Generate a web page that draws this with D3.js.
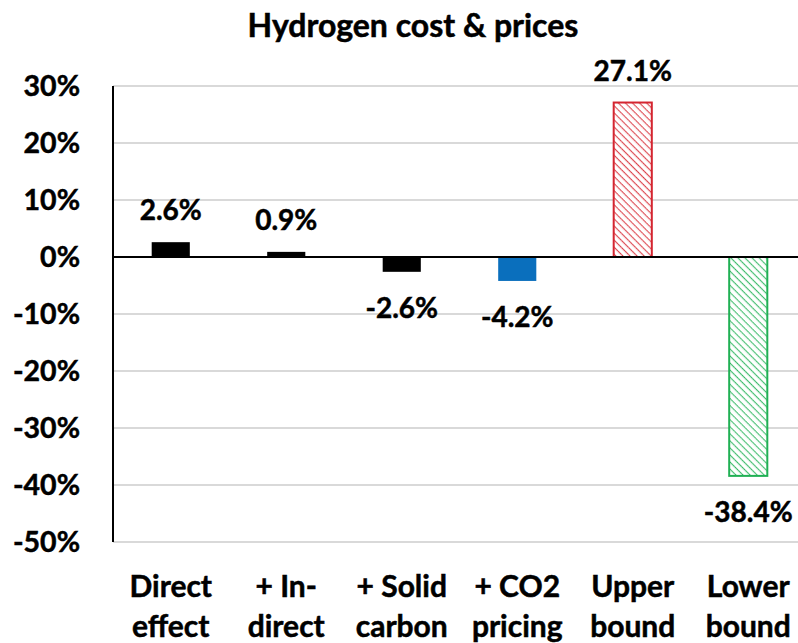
<!DOCTYPE html>
<html>
<head>
<meta charset="utf-8">
<script src="https://cdn.jsdelivr.net/npm/d3@7"></script>
<style>
  body { margin: 0; background: #fff; }
  svg text { font-family: Lato, "Open Sans", sans-serif; font-weight: bold; fill: #000; stroke: #000; stroke-width: 0.5px; }
</style>
</head>
<body>
<div id="chart"></div>
<script>
// chart data
const categories = [["Direct", "effect"], ["+ In-", "direct"], ["+ Solid", "carbon"], ["+ CO2", "pricing"], ["Upper", "bound"], ["Lower", "bound"]];
const values = [2.6, 0.9, -2.6, -4.2, 27.1, -38.4];
const barKinds = ["solid", "solid", "solid", "blue", "hatchRed", "hatchGreen"];
const yTicks = [30, 20, 10, 0, -10, -20, -30, -40, -50];

const width = 798, height = 643;
const plotLeft = 113, plotRight = 806, plotTop = 86, plotBottom = 542;

const svg = d3.select("#chart").append("svg")
    .attr("width", width)
    .attr("height", height);

const defs = svg.append("defs");
const makeHatch = (id, color, light) => {
    const p = defs.append("pattern")
        .attr("id", id)
        .attr("patternUnits", "userSpaceOnUse")
        .attr("width", 5)
        .attr("height", 5)
        .attr("patternTransform", "rotate(45)");
    p.append("rect").attr("width", 5).attr("height", 5).attr("fill", "#fff");
    p.append("line")
        .attr("x1", 0).attr("y1", 0).attr("x2", 5).attr("y2", 0)
        .attr("stroke", light).attr("stroke-width", 2.4);
    p.append("line")
        .attr("x1", 0).attr("y1", 0).attr("x2", 5).attr("y2", 0)
        .attr("stroke", color).attr("stroke-width", 1.6)
        .attr("stroke-dasharray", "1.5 1");
};
makeHatch("hatchRed", "#d42530", "#e67076");
makeHatch("hatchGreen", "#20b054", "#6fcf91");

const fills = {solid: "#000", blue: "#0a6fbd", hatchRed: "url(#hatchRed)", hatchGreen: "url(#hatchGreen)"};
const strokes = {solid: "none", blue: "none", hatchRed: "#d42530", hatchGreen: "#20b054"};

const x = d3.scaleBand()
    .domain(d3.range(categories.length))
    .range([plotLeft, plotRight])
    .paddingInner(0.67)
    .paddingOuter(0.335);

const y = d3.scaleLinear()
    .domain([-50, 30])
    .range([plotBottom, plotTop]);

// gridlines
svg.append("g")
    .selectAll("line.grid")
    .data(yTicks.filter(d => d !== 0))
    .enter()
    .append("line")
    .attr("class", "grid")
    .attr("x1", plotLeft).attr("x2", width)
    .attr("y1", d => y(d)).attr("y2", d => y(d))
    .attr("stroke", "#d9d9d9")
    .attr("stroke-width", 2);

// y axis labels
svg.append("g")
    .selectAll("text.ytick")
    .data(yTicks)
    .enter()
    .append("text")
    .attr("class", "ytick")
    .attr("x", 80)
    .attr("y", d => y(d) + 10)
    .attr("text-anchor", "end")
    .style("font-size", "28.5px")
    .text(d => d + "%");

// bars
svg.append("g")
    .selectAll("rect.bar")
    .data(values)
    .enter()
    .append("rect")
    .attr("class", "bar")
    .attr("x", (d, i) => x(i))
    .attr("width", x.bandwidth())
    .attr("y", d => y(Math.max(0, d)))
    .attr("height", d => Math.abs(y(d) - y(0)))
    .attr("fill", (d, i) => fills[barKinds[i]])
    .attr("stroke", (d, i) => strokes[barKinds[i]])
    .attr("stroke-width", 2);

// axis lines
svg.append("line")
    .attr("x1", plotLeft).attr("x2", plotLeft)
    .attr("y1", y(30)).attr("y2", y(-50))
    .attr("stroke", "#000").attr("stroke-width", 2);
svg.append("line")
    .attr("x1", plotLeft).attr("x2", width)
    .attr("y1", y(0)).attr("y2", y(0))
    .attr("stroke", "#000").attr("stroke-width", 2);

// value labels
svg.append("g")
    .selectAll("text.val")
    .data(values)
    .enter()
    .append("text")
    .attr("class", "val")
    .attr("x", (d, i) => x(i) + x.bandwidth() / 2)
    .attr("y", d => d >= 0 ? y(d) - 22 : y(d) + 46)
    .attr("text-anchor", "middle")
    .style("font-size", "28px")
    .text(d => d.toFixed(1) + "%");

// category labels
const cat = svg.append("g")
    .selectAll("text.cat")
    .data(categories)
    .enter()
    .append("text")
    .attr("class", "cat")
    .attr("text-anchor", "middle")
    .style("font-size", "30px");
cat.append("tspan")
    .attr("x", (d, i) => x(i) + x.bandwidth() / 2)
    .attr("y", 597)
    .text(d => d[0]);
cat.append("tspan")
    .attr("x", (d, i) => x(i) + x.bandwidth() / 2)
    .attr("y", 637)
    .text(d => d[1]);

// title
svg.append("text")
    .attr("x", 413)
    .attr("y", 37)
    .attr("text-anchor", "middle")
    .style("font-size", "32px")
    .text("Hydrogen cost & prices");
</script>
</body>
</html>
